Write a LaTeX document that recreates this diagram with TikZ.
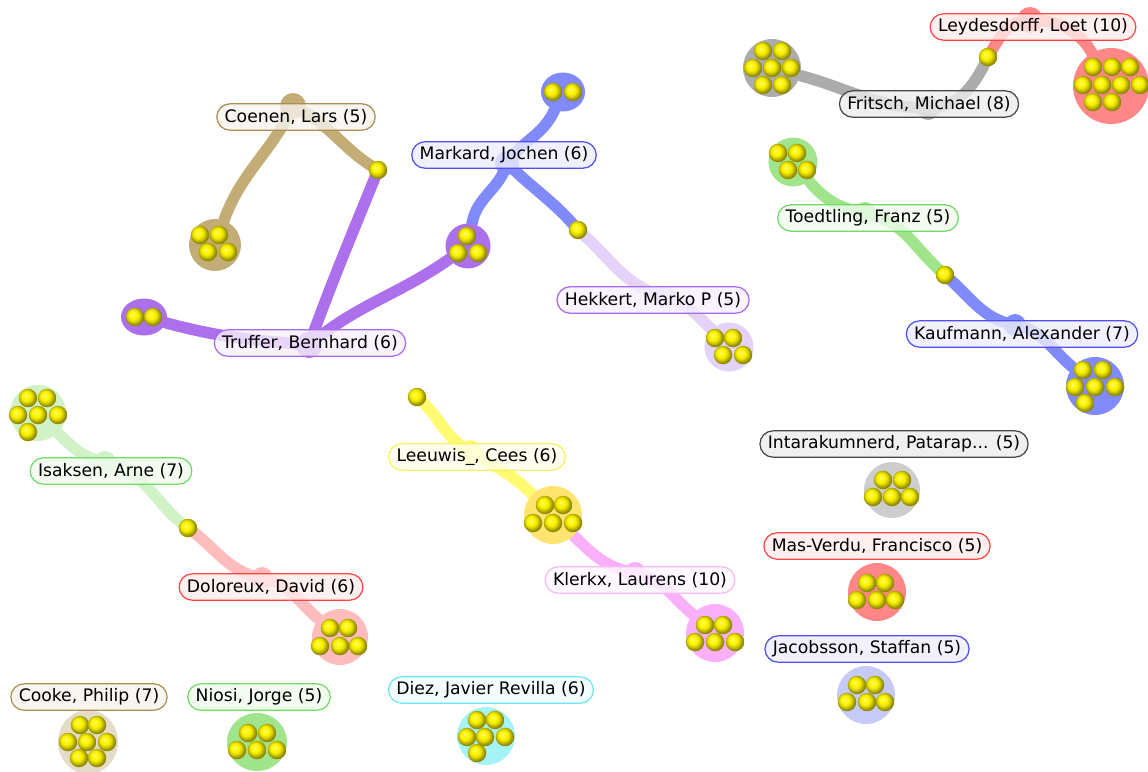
\documentclass[tikz,border=0pt]{standalone}
\usepackage{fontspec}
\newfontfamily\labelfont{DejaVu Sans}
\usetikzlibrary{backgrounds,shapes.geometric}
\definecolor{ballyellow}{RGB}{255,245,0}
\definecolor{blobgray}{RGB}{172,172,172}
\definecolor{blobred}{RGB}{255,135,135}
\definecolor{lightred}{RGB}{255,188,188}
\definecolor{blobtan}{RGB}{196,172,118}
\definecolor{lighttan}{RGB}{228,220,200}
\definecolor{blobpurple}{RGB}{172,112,236}
\definecolor{bloblav}{RGB}{228,210,250}
\definecolor{blobblue}{RGB}{128,138,250}
\definecolor{lightblue}{RGB}{198,202,246}
\definecolor{blobgreen}{RGB}{160,228,140}
\definecolor{lightgreen}{RGB}{208,242,198}
\definecolor{blobyellow}{RGB}{255,250,112}
\definecolor{yellowdisc}{RGB}{255,228,112}
\definecolor{blobpink}{RGB}{250,175,250}
\definecolor{blobcyan}{RGB}{165,242,247}
\definecolor{edgegray}{RGB}{70,70,70}
\definecolor{edgered}{RGB}{255,70,70}
\definecolor{edgetan}{RGB}{172,142,82}
\definecolor{edgeblue}{RGB}{80,80,240}
\definecolor{edgepurple}{RGB}{168,105,236}
\definecolor{edgegreen}{RGB}{112,218,100}
\definecolor{edgeyellow}{RGB}{250,242,90}
\definecolor{edgepink}{RGB}{246,185,246}
\definecolor{edgecyan}{RGB}{105,232,242}
\pgfdeclareradialshading{paperball}{\pgfpoint{-7bp}{7bp}}{%
  color(0bp)=(ballyellow!40!white); color(5bp)=(ballyellow!85!white);
  color(11bp)=(ballyellow); color(17bp)=(ballyellow!86!black);
  color(23bp)=(ballyellow!62!black); color(30bp)=(ballyellow!48!black);
  color(50bp)=(ballyellow!40!black)}
\tikzset{
  author/.style={draw=#1, fill=#1!10, fill opacity=.8, text opacity=1, text=black,
    rounded corners=7.5pt, minimum height=15pt, inner xsep=4.5pt, inner ysep=1pt,
    line width=.7pt, font=\labelfont\fontsize{9.8}{11}\selectfont},
  cluster/.style={circle, fill=#1, inner sep=0pt},
  blob/.style={draw=#1, line width=6.5pt, line cap=round},
  ball/.pic={\shade[shading=paperball] (0,0) circle[radius=.185cm];}
}

\begin{document}
\begin{tikzpicture}[x=0.02cm,y=-0.02cm]
\useasboundingbox (0,0) rectangle (1148,771);
% paper clusters
\node[cluster=blobgray, minimum size=1.16cm] (cFri) at (772,68) {};
\node[cluster=blobred, minimum size=1.52cm] (cLey) at (1111,86) {};
\node[cluster=blobtan, minimum size=1.04cm] (cCoe) at (215,245) {};
\node[cluster=blobpurple, ellipse, minimum width=.92cm, minimum height=.74cm] (cTruL) at (144,317) {};
\node[cluster=blobpurple, minimum size=.9cm] (cMT) at (468,246) {};
\node[cluster=blobblue, ellipse, minimum width=.88cm, minimum height=.78cm] (cMar) at (563,92) {};
\node[cluster=bloblav, minimum size=.98cm] (cHek) at (729,347) {};
\node[cluster=blobgreen, minimum size=.98cm] (cToe) at (793,162) {};
\node[cluster=blobblue, minimum size=1.16cm] (cKau) at (1095,386) {};
\node[cluster=lightgreen, minimum size=1.12cm] (cIsa) at (38,413) {};
\node[cluster=lightred, minimum size=1.12cm] (cDol) at (340,637) {};
\node[cluster=yellowdisc, minimum size=1.16cm] (cLK) at (553,515) {};
\node[cluster=blobpink, minimum size=1.16cm] (cKle) at (715,633) {};
\node[cluster=blobgray!60, minimum size=1.12cm] (cInt) at (892,490) {};
\node[cluster=blobred, minimum size=1.16cm] (cMas) at (877,592) {};
\node[cluster=lightblue, minimum size=1.16cm] (cJac) at (866,695) {};
\node[cluster=lighttan, ellipse, minimum width=1.2cm, minimum height=1.28cm] (cCoo) at (88,742) {};
\node[cluster=blobgreen, ellipse, minimum width=1.2cm, minimum height=1.16cm] (cNio) at (257,742) {};
\node[cluster=blobcyan, minimum size=1.16cm] (cDie) at (486,736) {};
% single papers
\coordinate (sFL) at (988,57);
\coordinate (sCT) at (378,170);
\coordinate (sMH) at (578,230);
\coordinate (sTK) at (945,275);
\coordinate (sID) at (188,528);
\coordinate (sLee) at (417,397);
% author hubs
\coordinate (hFri) at (928,108);
\coordinate (hLey) at (1030,20);
\coordinate (hCoe) at (293,106);
\coordinate (hTru) at (309,345);
\coordinate (hMar) at (507,163);
\coordinate (hHek) at (665,297);
\coordinate (hToe) at (865,213);
\coordinate (hKau) at (1015,325);
\coordinate (hIsa) at (105,462);
\coordinate (hDol) at (262,578);
\coordinate (hLee) at (470,452);
\coordinate (hKle) at (635,573);
\begin{scope}[on background layer]
\draw[blob=blobgray] (cFri) to[out=-15,in=180] (hFri) to[out=0,in=-115] (sFL);
\draw[blob=blobred] (sFL) to[out=60,in=180] (hLey) to[out=0,in=120] (cLey);
\draw[blob=blobtan] (cCoe) to[out=70,in=-115] (hCoe) to[out=-25,in=150] (sCT);
\draw[blob=blobpurple] (cTruL) to[out=-15,in=175] (hTru) to[out=70,in=-112] (sCT);
\draw[blob=blobpurple] (hTru) to[out=40,in=-145] (cMT);
\draw[blob=blobblue] (cMar) to[out=-115,in=55] (hMar) to[out=-105,in=80] (cMT);
\draw[blob=blobblue] (hMar) to[out=-45,in=130] (sMH);
\draw[blob=bloblav] (sMH) to[out=-40,in=165] (hHek) to[out=-15,in=135] (cHek);
\draw[blob=blobgreen] (cToe) to[out=-50,in=170] (hToe) to[out=-10,in=140] (sTK);
\draw[blob=blobblue] (sTK) to[out=-40,in=170] (hKau) to[out=-10,in=140] (cKau);
\draw[blob=lightgreen] (cIsa) to[out=-45,in=170] (hIsa) to[out=-10,in=145] (sID);
\draw[blob=lightred] (sID) to[out=-35,in=170] (hDol) to[out=-10,in=140] (cDol);
\draw[blob=blobyellow] (sLee) to[out=-40,in=150] (hLee) to[out=-30,in=135] (cLK);
\draw[blob=blobpink] (cLK) to[out=-45,in=170] (hKle) to[out=-10,in=140] (cKle);
\fill[blobgray] (hFri) circle[radius=.24cm];
\fill[blobred] (hLey) circle[radius=.26cm];
\fill[blobtan] (hCoe) circle[radius=.26cm];
\fill[blobpurple] (hTru) circle[radius=.26cm];
\fill[blobblue] (hMar) circle[radius=.24cm];
\fill[bloblav] (hHek) circle[radius=.22cm];
\fill[blobgreen] (hToe) circle[radius=.22cm];
\fill[blobblue] (hKau) circle[radius=.22cm];
\fill[lightgreen] (hIsa) circle[radius=.22cm];
\fill[lightred] (hDol) circle[radius=.22cm];
\fill[blobyellow] (hLee) circle[radius=.24cm];
\fill[blobpink] (hKle) circle[radius=.22cm];
\end{scope}
% author labels
\node[author=edgered] (lLey) at (1033,27) {Leydesdorff, Loet (10)};
\node[author=edgegray] (lFri) at (929,104) {Fritsch, Michael (8)};
\node[author=edgetan] (lCoe) at (296,117) {Coenen, Lars (5)};
\node[author=edgeblue] (lMar) at (504,155) {Markard, Jochen (6)};
\node[author=edgepurple] (lTru) at (310,343) {Truffer, Bernhard (6)};
\node[author=edgepurple] (lHek) at (653,300) {Hekkert, Marko P (5)};
\node[author=edgegreen] (lToe) at (868,218) {Toedtling, Franz (5)};
\node[author=edgeblue] (lKau) at (1022,334) {Kaufmann, Alexander (7)};
\node[author=edgegreen] (lIsa) at (111,471) {Isaksen, Arne (7)};
\node[author=edgered] (lDol) at (271,587) {Doloreux, David (6)};
\node[author=edgeyellow] (lLee) at (477,457) {Leeuwis\_, Cees (6)};
\node[author=edgepink] (lKle) at (640,580) {Klerkx, Laurens (10)};
\node[author=edgegray] (lInt) at (894,444) {Intarakumnerd, Patarap... (5)};
\node[author=edgered] (lMas) at (877,546) {Mas-Verdu, Francisco (5)};
\node[author=edgeblue] (lJac) at (867,649) {Jacobsson, Staffan (5)};
\node[author=edgetan] (lCoo) at (89,697) {Cooke, Philip (7)};
\node[author=edgegreen] (lNio) at (259,697) {Niosi, Jorge (5)};
\node[author=edgecyan] (lDie) at (491,690) {Diez, Javier Revilla (6)};
% the papers themselves
\foreach \x/\y in {763/51,782/51,753/68,772/68,791/68,763/85,782/85} \pic at (\x,\y) {ball};
\foreach \x/\y in {1093/67,1112/67,1130/67,1083/85,1102/85,1121/85,1140/85,1093/102,1112/102} \pic at (\x,\y) {ball};
\foreach \x/\y in {200/235,219/235,208/252,228/252} \pic at (\x,\y) {ball};
\foreach \x/\y in {135/317,153/317} \pic at (\x,\y) {ball};
\foreach \x/\y in {467/236,458/253,478/253} \pic at (\x,\y) {ball};
\foreach \x/\y in {553/92,573/92} \pic at (\x,\y) {ball};
\foreach \x/\y in {715/338,733/338,723/355,743/355} \pic at (\x,\y) {ball};
\foreach \x/\y in {778/153,797/153,788/170,807/170} \pic at (\x,\y) {ball};
\foreach \x/\y in {1083/370,1103/370,1075/387,1095/387,1115/387,1085/403} \pic at (\x,\y) {ball};
\foreach \x/\y in {28/398,47/398,18/415,38/415,58/415,28/432} \pic at (\x,\y) {ball};
\foreach \x/\y in {330/628,348/628,320/646,340/646,358/646} \pic at (\x,\y) {ball};
\foreach \x/\y in {545/505,563/505,533/523,553/523,573/523} \pic at (\x,\y) {ball};
\foreach \x/\y in {705/625,723/625,695/642,715/642,735/642} \pic at (\x,\y) {ball};
\foreach \x/\y in {883/480,902/480,873/497,892/497,910/497} \pic at (\x,\y) {ball};
\foreach \x/\y in {867/583,885/583,857/600,877/600,895/600} \pic at (\x,\y) {ball};
\foreach \x/\y in {857/685,875/685,847/702,867/702,885/702} \pic at (\x,\y) {ball};
\foreach \x/\y in {80/725,97/725,68/742,87/742,107/742,79/758,97/758} \pic at (\x,\y) {ball};
\foreach \x/\y in {248/733,267/733,237/750,257/750,277/750} \pic at (\x,\y) {ball};
\foreach \x/\y in {477/720,495/720,467/737,485/737,505/737,477/753} \pic at (\x,\y) {ball};
\pic at (sFL) {ball};
\pic at (sCT) {ball};
\pic at (sMH) {ball};
\pic at (sTK) {ball};
\pic at (sID) {ball};
\pic at (sLee) {ball};
\end{tikzpicture}
\end{document}
